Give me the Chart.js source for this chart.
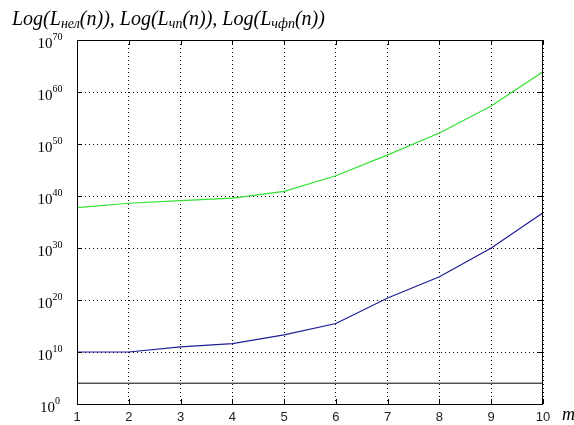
<!DOCTYPE html>
<html>
<head>
<meta charset="utf-8">
<script src="https://cdn.jsdelivr.net/npm/chart.js@4.4.0/dist/chart.umd.min.js"></script>
<style>
  html, body { margin: 0; padding: 0; background: #fff; }
  #wrap { width: 574px; height: 425px; }
</style>
</head>
<body>
<div id="wrap"><canvas id="c" width="574" height="425"></canvas></div>
<script>
// ---- Data ----
const mValues = [1, 2, 3, 4, 5, 6, 7, 8, 9, 10];
const seriesNel = [6e37, 4e38, 1.3e39, 4e39, 8e40, 8e43, 8e47, 1.3e52, 2e57, 8e63];   // green
const seriesChp = [1e10, 1e10, 1e11, 4e11, 2e13, 3e15, 2.5e20, 3e24, 1e30, 6e36];     // blue
const seriesChfp = [1e4, 1e4, 1e4, 1e4, 1e4, 1e4, 1e4, 1e4, 1e4, 1e4];                // black
const yTickExponents = [0, 10, 20, 30, 40, 50, 60, 70];
const xTickLabels = ['1', '2', '3', '4', '5', '6', '7', '8', '9', '10'];
const yTitleParts = [
  ['Log(L', false], ['нел', true], ['(n)), Log(L', false], ['чп', true],
  ['(n)), Log(L', false], ['чфп', true], ['(n))', false]
];
const xTitle = 'm';

const toPoints = arr => arr.map((v, i) => ({ x: mValues[i], y: v }));

const decor = {
  id: 'decor',
  afterDatasetsDraw(chart) {
    const ctx = chart.ctx;
    const a = chart.chartArea;
    const xs = chart.scales.x, ys = chart.scales.y;
    ctx.save();
    ctx.strokeStyle = '#000';
    ctx.lineWidth = 1;
    ctx.setLineDash([]);
    ctx.strokeRect(Math.round(a.left) + 0.5, Math.round(a.top) + 0.5,
                   Math.round(a.right - a.left) - 1, Math.round(a.bottom - a.top));
    ctx.beginPath();
    mValues.forEach(v => {
      const px = Math.round(xs.getPixelForValue(v)) + 0.5;
      ctx.moveTo(px, a.bottom); ctx.lineTo(px, a.bottom - 5);
      ctx.moveTo(px, a.top); ctx.lineTo(px, a.top + 5);
    });
    yTickExponents.forEach(e => {
      const py = Math.round(ys.getPixelForValue(Math.pow(10, e))) + 0.5;
      ctx.moveTo(a.left, py); ctx.lineTo(a.left + 5, py);
      ctx.moveTo(a.right, py); ctx.lineTo(a.right - 5, py);
    });
    ctx.stroke();
    ctx.restore();
  },
  afterDraw(chart) {
    const ctx = chart.ctx;
    const ys = chart.scales.y;
    ctx.save();
    ctx.fillStyle = '#000';
    ctx.textBaseline = 'alphabetic';
    ctx.textAlign = 'left';
    const baseFont = '15px "Liberation Serif", "Times New Roman", serif';
    const expFont = '10px "Liberation Serif", "Times New Roman", serif';
    yTickExponents.forEach(e => {
      const py = ys.getPixelForValue(Math.pow(10, e));
      ctx.font = baseFont;
      const wb = ctx.measureText('10').width;
      ctx.font = expFont;
      const we = ctx.measureText(String(e)).width;
      const x0 = 50 - (wb + we) / 2;
      ctx.font = baseFont;
      ctx.fillText('10', x0, py + 8);
      ctx.font = expFont;
      ctx.fillText(String(e), x0 + wb, py - 0.5);
    });
    let x = 12;
    yTitleParts.forEach(([t, sub]) => {
      ctx.font = sub ? 'italic 14px "Liberation Serif", serif' : 'italic 20px "Liberation Serif", serif';
      ctx.fillText(t, x, sub ? 28 : 25);
      x += ctx.measureText(t).width;
    });
    ctx.font = 'italic 18px "Liberation Serif", serif';
    ctx.fillText(xTitle, 562, 420);
    ctx.restore();
  }
};

new Chart(document.getElementById('c'), {
  type: 'line',
  data: {
    datasets: [
      { label: 'Lнел', data: toPoints(seriesNel), borderColor: 'rgb(50,225,50)', borderWidth: 1.2 },
      { label: 'Lчп', data: toPoints(seriesChp), borderColor: 'rgb(30,30,150)', borderWidth: 1.2 },
      { label: 'Lчфп', data: toPoints(seriesChfp), borderColor: '#000', borderWidth: 1 }
    ]
  },
  options: {
    responsive: false,
    animation: false,
    devicePixelRatio: 1,
    elements: { point: { radius: 0 }, line: { tension: 0, fill: false } },
    layout: { padding: { left: 0, right: 31, top: 40, bottom: 0 } },
    plugins: { legend: { display: false }, tooltip: { enabled: false } },
    scales: {
      x: {
        type: 'linear', min: 1, max: 10,
        afterBuildTicks: s => { s.ticks = mValues.map(v => ({ value: v })); },
        afterFit: s => { s.height = 21; },
        ticks: {
          autoSkip: false, maxRotation: 0, padding: 6,
          color: '#222',
          font: { family: '"Liberation Sans", Arial, sans-serif', size: 13 },
          callback: (v, i) => xTickLabels[i]
        },
        grid: { color: '#000', lineWidth: 1, drawTicks: false },
        border: { display: false, dash: [1, 3] }
      },
      y: {
        type: 'logarithmic', min: 1, max: 1e70,
        afterBuildTicks: s => { s.ticks = yTickExponents.map(e => ({ value: Math.pow(10, e) })); },
        afterFit: s => { s.width = 77; },
        ticks: { display: false },
        grid: { color: '#000', lineWidth: 1, drawTicks: false },
        border: { display: false, dash: [1, 3] }
      }
    }
  },
  plugins: [decor]
});
</script>
</body>
</html>
